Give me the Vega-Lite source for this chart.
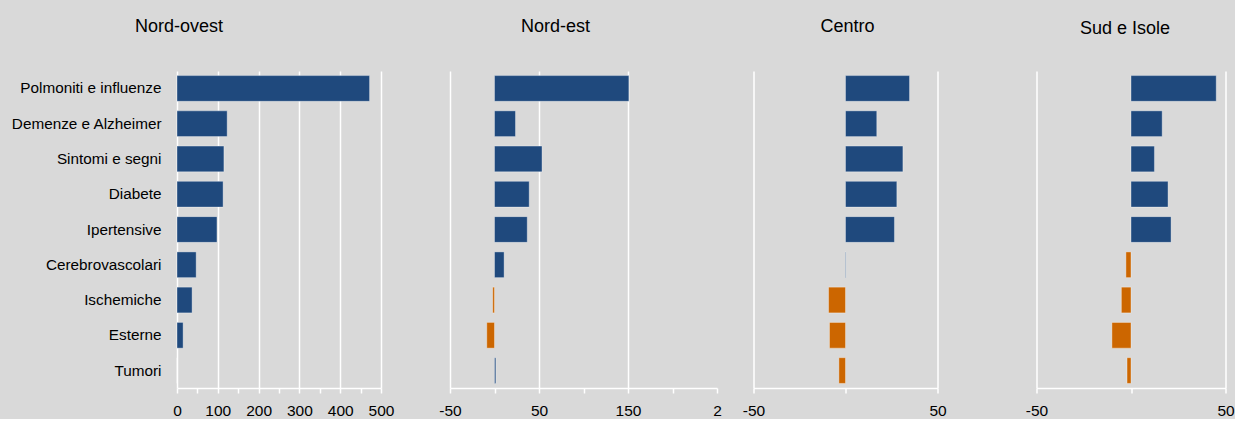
{
  "$schema": "https://vega.github.io/schema/vega-lite/v6.json",
  "background": "#D9D9D9",
  "padding": {"left": 10, "top": 18, "right": 0, "bottom": 0},
  "autosize": {"type": "pad"},
  "config": {
    "view": {"stroke": null},
    "font": "Liberation Sans",
    "title": {"fontSize": 18, "fontWeight": "normal", "color": "#000000", "font": "Liberation Sans", "anchor": "middle", "offset": 35},
    "axisX": {
      "title": null, "domainColor": "#FFFFFF", "domainWidth": 1.5, "tickColor": "#FFFFFF", "tickSize": 5, "tickWidth": 1.5,
      "gridColor": "#FFFFFF", "gridWidth": 1.5, "labelColor": "#000000", "labelFontSize": 15.5, "labelPadding": 10,
      "labelFont": "Liberation Sans", "labelOverlap": false, "labelFlush": false, "labelBound": false
    },
    "axisY": {
      "title": null, "domain": false, "ticks": false, "grid": false, "labelColor": "#000000", "labelFontSize": 15.3,
      "labelPadding": 16, "labelFont": "Liberation Sans"
    }
  },
  "data": {"values": [
    {"area": "Nord-ovest", "causa": "Polmoniti e influenze", "v": 472},
    {"area": "Nord-ovest", "causa": "Demenze e Alzheimer", "v": 123},
    {"area": "Nord-ovest", "causa": "Sintomi e segni", "v": 115},
    {"area": "Nord-ovest", "causa": "Diabete", "v": 113},
    {"area": "Nord-ovest", "causa": "Ipertensive", "v": 98},
    {"area": "Nord-ovest", "causa": "Cerebrovascolari", "v": 47},
    {"area": "Nord-ovest", "causa": "Ischemiche", "v": 37},
    {"area": "Nord-ovest", "causa": "Esterne", "v": 15},
    {"area": "Nord-ovest", "causa": "Tumori", "v": 0},
    {"area": "Nord-est", "causa": "Polmoniti e influenze", "v": 151},
    {"area": "Nord-est", "causa": "Demenze e Alzheimer", "v": 23.6},
    {"area": "Nord-est", "causa": "Sintomi e segni", "v": 53.4},
    {"area": "Nord-est", "causa": "Diabete", "v": 39},
    {"area": "Nord-est", "causa": "Ipertensive", "v": 36.8},
    {"area": "Nord-est", "causa": "Cerebrovascolari", "v": 10.8},
    {"area": "Nord-est", "causa": "Ischemiche", "v": -2},
    {"area": "Nord-est", "causa": "Esterne", "v": -8.7},
    {"area": "Nord-est", "causa": "Tumori", "v": 1.5},
    {"area": "Centro", "causa": "Polmoniti e influenze", "v": 34.8},
    {"area": "Centro", "causa": "Demenze e Alzheimer", "v": 17},
    {"area": "Centro", "causa": "Sintomi e segni", "v": 31.2},
    {"area": "Centro", "causa": "Diabete", "v": 27.9},
    {"area": "Centro", "causa": "Ipertensive", "v": 26.6},
    {"area": "Centro", "causa": "Cerebrovascolari", "v": 0.3},
    {"area": "Centro", "causa": "Ischemiche", "v": -9.2},
    {"area": "Centro", "causa": "Esterne", "v": -8.7},
    {"area": "Centro", "causa": "Tumori", "v": -3.6},
    {"area": "Sud e Isole", "causa": "Polmoniti e influenze", "v": 45.1},
    {"area": "Sud e Isole", "causa": "Demenze e Alzheimer", "v": 16.5},
    {"area": "Sud e Isole", "causa": "Sintomi e segni", "v": 12.4},
    {"area": "Sud e Isole", "causa": "Diabete", "v": 19.6},
    {"area": "Sud e Isole", "causa": "Ipertensive", "v": 21.2},
    {"area": "Sud e Isole", "causa": "Cerebrovascolari", "v": -2.7},
    {"area": "Sud e Isole", "causa": "Ischemiche", "v": -5.1},
    {"area": "Sud e Isole", "causa": "Esterne", "v": -10.1},
    {"area": "Sud e Isole", "causa": "Tumori", "v": -2.1}
  ]},
  "spacing": 19.5,
  "hconcat": [
    {
      "spacing": 44,
      "hconcat": [
        {
          "width": 204, "height": 317,
          "title": {"text": "Nord-ovest", "dx": -100},
          "transform": [{"filter": "datum.area === 'Nord-ovest'"}],
          "mark": {"type": "bar", "stroke": "#FFFFFF", "strokeOpacity": 0.35, "strokeWidth": 1},
          "encoding": {
            "y": {"field": "causa", "type": "nominal",
              "sort": ["Polmoniti e influenze", "Demenze e Alzheimer", "Sintomi e segni", "Diabete", "Ipertensive", "Cerebrovascolari", "Ischemiche", "Esterne", "Tumori"],
              "scale": {"paddingInner": 0.27, "paddingOuter": 0.13}},
            "x": {"field": "v", "type": "quantitative",
              "scale": {"domain": [0, 500], "nice": false},
              "axis": {"values": [0, 50, 100, 150, 200, 250, 300, 350, 400, 450, 500],
                "labelExpr": "datum.value % 100 === 0 ? '' + datum.value : ''",
                "gridOpacity": {"condition": {"test": "datum.value % 100 === 0", "value": 1}, "value": 0}}},
            "color": {"condition": {"test": "datum.v < 0", "value": "#CC6600"}, "value": "#1F497D"}
          }
        },
        {
          "width": 267, "height": 317,
          "title": {"text": "Nord-est", "dx": -28},
          "transform": [{"filter": "datum.area === 'Nord-est'"}],
          "mark": {"type": "bar", "stroke": "#FFFFFF", "strokeOpacity": 0.35, "strokeWidth": 1},
          "encoding": {
            "y": {"field": "causa", "type": "nominal",
              "sort": ["Polmoniti e influenze", "Demenze e Alzheimer", "Sintomi e segni", "Diabete", "Ipertensive", "Cerebrovascolari", "Ischemiche", "Esterne", "Tumori"],
              "scale": {"paddingInner": 0.27, "paddingOuter": 0.13}, "axis": null},
            "x": {"field": "v", "type": "quantitative",
              "scale": {"domain": [-50, 250], "nice": false},
              "axis": {"values": [-50, 0, 50, 100, 150, 200, 250],
                "labelExpr": "datum.value === 250 ? '2' : ((datum.value + 50) % 100 === 0 ? '' + datum.value : '')",
                "gridOpacity": {"condition": {"test": "(datum.value + 50) % 100 === 0 && datum.value < 250", "value": 1}, "value": 0}}},
            "color": {"condition": {"test": "datum.v < 0", "value": "#CC6600"}, "value": "#1F497D"}
          }
        }
      ]
    },
    {
      "spacing": 78,
      "hconcat": [
        {
          "width": 184, "height": 317,
          "title": {"text": "Centro", "dx": 2},
          "transform": [{"filter": "datum.area === 'Centro'"}],
          "mark": {"type": "bar", "stroke": "#FFFFFF", "strokeOpacity": 0.35, "strokeWidth": 1},
          "encoding": {
            "y": {"field": "causa", "type": "nominal",
              "sort": ["Polmoniti e influenze", "Demenze e Alzheimer", "Sintomi e segni", "Diabete", "Ipertensive", "Cerebrovascolari", "Ischemiche", "Esterne", "Tumori"],
              "scale": {"paddingInner": 0.27, "paddingOuter": 0.13}, "axis": null},
            "x": {"field": "v", "type": "quantitative",
              "scale": {"domain": [-50, 50], "nice": false},
              "axis": {"values": [-50, 0, 50],
                "labelExpr": "datum.value === 0 ? '' : '' + datum.value",
                "gridOpacity": {"condition": {"test": "datum.value !== 0", "value": 1}, "value": 0}}},
            "color": {"condition": {"test": "datum.v < 0", "value": "#CC6600"}, "value": "#1F497D"}
          }
        },
        {
          "width": 189, "height": 317,
          "title": {"text": "Sud e Isole", "dx": -6, "dy": 2},
          "transform": [{"filter": "datum.area === 'Sud e Isole'"}],
          "mark": {"type": "bar", "stroke": "#FFFFFF", "strokeOpacity": 0.35, "strokeWidth": 1},
          "encoding": {
            "y": {"field": "causa", "type": "nominal",
              "sort": ["Polmoniti e influenze", "Demenze e Alzheimer", "Sintomi e segni", "Diabete", "Ipertensive", "Cerebrovascolari", "Ischemiche", "Esterne", "Tumori"],
              "scale": {"paddingInner": 0.27, "paddingOuter": 0.13}, "axis": null},
            "x": {"field": "v", "type": "quantitative",
              "scale": {"domain": [-50, 50], "nice": false},
              "axis": {"values": [-50, 0, 50],
                "labelExpr": "datum.value === 0 ? '' : '' + datum.value",
                "gridOpacity": {"condition": {"test": "datum.value !== 0", "value": 1}, "value": 0}}},
            "color": {"condition": {"test": "datum.v < 0", "value": "#CC6600"}, "value": "#1F497D"}
          }
        }
      ]
    }
  ]
}
